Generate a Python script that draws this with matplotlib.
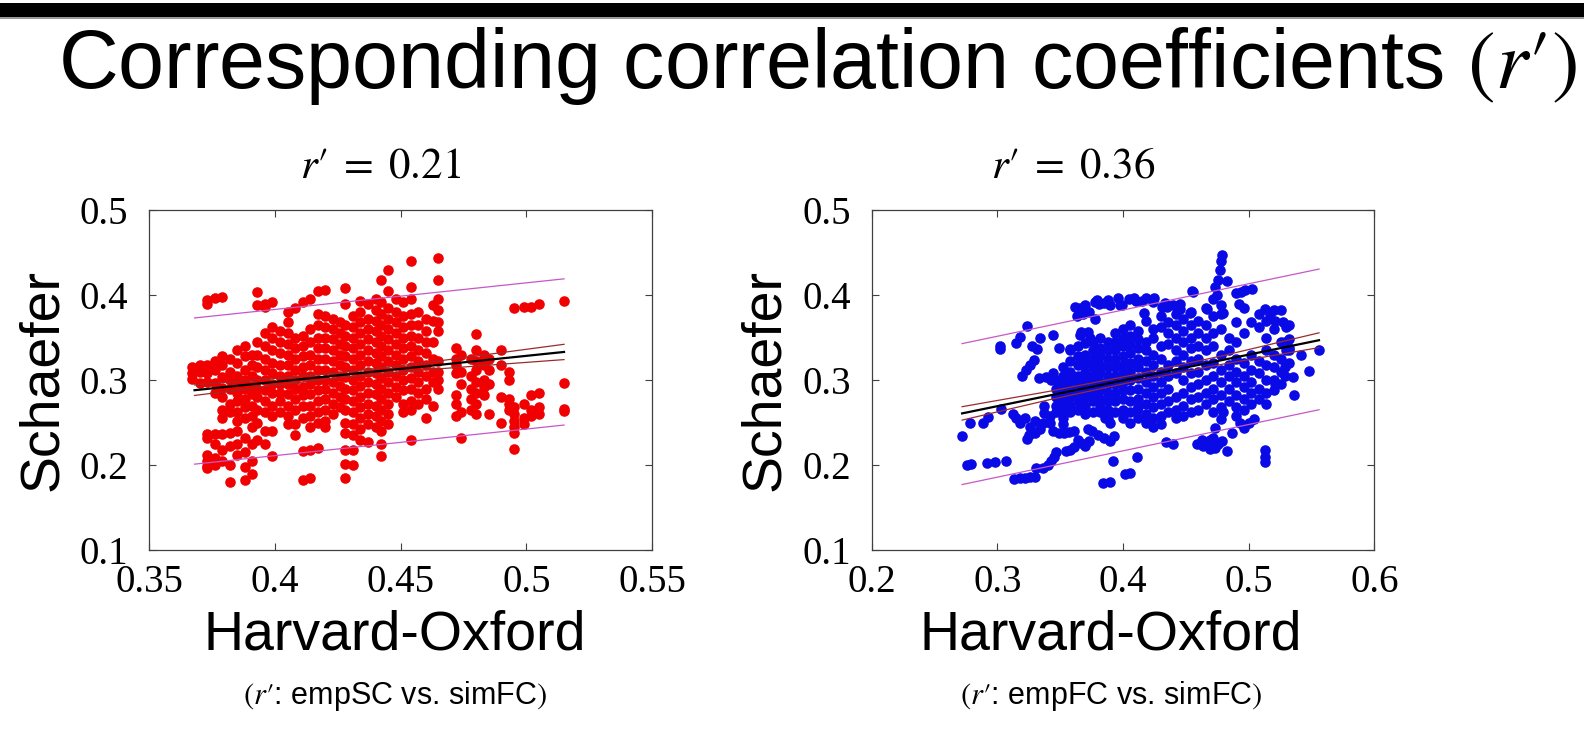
#!/usr/bin/env python3
# -*- coding: utf-8 -*-
import matplotlib
matplotlib.use("Agg")
import matplotlib.pyplot as plt
import numpy as np
from matplotlib.patches import Rectangle

plt.rcParams["font.family"] = ["Liberation Sans", "DejaVu Sans"]
plt.rcParams["mathtext.fontset"] = "stix"

# ---- panel 1: empSC vs. simFC (red) -------------------------------------
red_x = [0.367, 0.370, 0.373, 0.376, 0.379, 0.382, 0.385, 0.388, 0.391,
         0.393, 0.396, 0.399, 0.402, 0.405, 0.408, 0.411, 0.414, 0.417,
         0.420, 0.423, 0.426, 0.428, 0.431, 0.434, 0.437, 0.440, 0.442,
         0.445, 0.448, 0.451, 0.454, 0.457, 0.460, 0.463, 0.465, 0.472,
         0.474, 0.478, 0.480, 0.483, 0.485, 0.490, 0.493, 0.495, 0.499,
         0.502, 0.505, 0.515]
red_y = [
  [0.301, 0.308, 0.315],
  [0.296, 0.310, 0.318],
  [0.394, 0.389, 0.318, 0.308, 0.298, 0.236, 0.232, 0.212, 0.205, 0.199,
   0.196],
  [0.397, 0.322, 0.312, 0.296, 0.285, 0.236, 0.225, 0.208, 0.200],
  [0.398, 0.328, 0.318, 0.303, 0.291, 0.280, 0.265, 0.255, 0.236, 0.218,
   0.205],
  [0.325, 0.310, 0.300, 0.290, 0.272, 0.262, 0.238, 0.222, 0.200, 0.180],
  [0.335, 0.320, 0.305, 0.295, 0.285, 0.275, 0.262, 0.252, 0.240, 0.225,
   0.212],
  [0.340, 0.328, 0.312, 0.300, 0.290, 0.278, 0.268, 0.255, 0.232, 0.215,
   0.198, 0.182],
  [0.330, 0.318, 0.305, 0.293, 0.283, 0.270, 0.258, 0.245, 0.225, 0.205,
   0.190],
  [0.403, 0.388, 0.345, 0.330, 0.315, 0.300, 0.290, 0.280, 0.265, 0.250,
   0.230],
  [0.390, 0.386, 0.355, 0.340, 0.325, 0.312, 0.300, 0.288, 0.275, 0.262,
   0.240, 0.225],
  [0.392, 0.362, 0.350, 0.335, 0.320, 0.308, 0.295, 0.285, 0.270, 0.258,
   0.240, 0.211],
  [0.358, 0.345, 0.332, 0.318, 0.305, 0.295, 0.285, 0.275, 0.262],
  [0.380, 0.368, 0.355, 0.342, 0.330, 0.318, 0.305, 0.295, 0.283, 0.270,
   0.258, 0.248],
  [0.385, 0.350, 0.338, 0.325, 0.312, 0.300, 0.290, 0.278, 0.265, 0.248,
   0.235],
  [0.392, 0.352, 0.340, 0.328, 0.315, 0.305, 0.292, 0.282, 0.270, 0.255,
   0.216, 0.182],
  [0.395, 0.360, 0.345, 0.330, 0.318, 0.305, 0.295, 0.283, 0.270, 0.258,
   0.245, 0.218, 0.185],
  [0.405, 0.378, 0.365, 0.350, 0.338, 0.325, 0.312, 0.300, 0.288, 0.275,
   0.262, 0.250, 0.220],
  [0.406, 0.375, 0.362, 0.350, 0.338, 0.325, 0.312, 0.300, 0.290, 0.278,
   0.265, 0.252, 0.245],
  [0.372, 0.360, 0.348, 0.335, 0.322, 0.310, 0.298, 0.285, 0.272, 0.260],
  [0.368, 0.355, 0.342, 0.330, 0.318, 0.305, 0.293, 0.280, 0.268],
  [0.408, 0.390, 0.365, 0.352, 0.340, 0.328, 0.315, 0.303, 0.290, 0.278,
   0.265, 0.250, 0.238, 0.218, 0.201, 0.185],
  [0.375, 0.362, 0.350, 0.338, 0.325, 0.312, 0.300, 0.288, 0.275, 0.262,
   0.248, 0.235, 0.218, 0.200],
  [0.393, 0.380, 0.368, 0.355, 0.342, 0.330, 0.318, 0.305, 0.293, 0.280,
   0.268, 0.255, 0.242, 0.230],
  [0.390, 0.372, 0.360, 0.348, 0.335, 0.322, 0.310, 0.298, 0.285, 0.272,
   0.260, 0.248, 0.227],
  [0.395, 0.382, 0.370, 0.358, 0.345, 0.332, 0.320, 0.308, 0.295, 0.283,
   0.270, 0.258, 0.245],
  [0.418, 0.392, 0.378, 0.365, 0.352, 0.340, 0.328, 0.315, 0.302, 0.290,
   0.278, 0.265, 0.252, 0.240, 0.225, 0.211],
  [0.429, 0.405, 0.385, 0.372, 0.360, 0.348, 0.335, 0.322, 0.310, 0.298,
   0.285, 0.272, 0.260, 0.248],
  [0.395, 0.380, 0.368, 0.355, 0.342, 0.330, 0.318, 0.305, 0.292, 0.280],
  [0.392, 0.375, 0.362, 0.350, 0.338, 0.325, 0.312, 0.300, 0.288, 0.272,
   0.262],
  [0.440, 0.410, 0.395, 0.378, 0.365, 0.352, 0.340, 0.328, 0.315, 0.302,
   0.290, 0.275, 0.265, 0.229],
  [0.380, 0.365, 0.350, 0.335, 0.322, 0.310, 0.298, 0.285, 0.272],
  [0.372, 0.358, 0.345, 0.332, 0.318, 0.305, 0.290, 0.278, 0.255],
  [0.388, 0.370, 0.345, 0.325, 0.310, 0.298, 0.270],
  [0.444, 0.418, 0.395, 0.382, 0.368, 0.358, 0.322, 0.310, 0.300, 0.290],
  [0.338, 0.325, 0.318, 0.308, 0.282, 0.272, 0.258],
  [0.330, 0.310, 0.295, 0.262, 0.232],
  [0.325, 0.305, 0.290, 0.278, 0.265],
  [0.354, 0.335, 0.322, 0.312, 0.298, 0.285, 0.272, 0.260],
  [0.330, 0.318, 0.300, 0.292, 0.282],
  [0.325, 0.312, 0.295, 0.260],
  [0.335, 0.318, 0.280, 0.250],
  [0.310, 0.300, 0.278, 0.272, 0.265],
  [0.385, 0.268, 0.260, 0.252, 0.245, 0.238, 0.219],
  [0.386, 0.272, 0.255, 0.248],
  [0.386, 0.282, 0.265, 0.258],
  [0.390, 0.285, 0.268, 0.260],
  [0.393, 0.296, 0.266, 0.264],
]

red_fit_x = [0.368, 0.515]
red_fit_y = [0.288, 0.333]
red_pi_lo = [0.201, 0.247]
red_pi_hi = [0.373, 0.419]
red_ci_x = [0.368, 0.400, 0.425, 0.460, 0.515]
red_ci_hi = [0.2942, 0.3018, 0.3084, 0.3204, 0.342]
red_ci_lo = [0.2818, 0.2938, 0.3024, 0.3120, 0.324]

# ---- panel 2: empFC vs. simFC (blue) -------------------------------------
blue_x = [0.347, 0.352, 0.358, 0.364, 0.370, 0.376, 0.382, 0.388, 0.394,
          0.400, 0.406, 0.412, 0.418, 0.424, 0.430, 0.436, 0.442, 0.448,
          0.454, 0.460, 0.466, 0.472, 0.478, 0.484, 0.490, 0.496, 0.502,
          0.508, 0.514, 0.520, 0.526, 0.532]
blue_y = [
  [0.300, 0.290, 0.280, 0.270, 0.262],
  [0.315, 0.305, 0.295, 0.285, 0.275, 0.265, 0.255, 0.248],
  [0.335, 0.322, 0.310, 0.300, 0.290, 0.280, 0.270, 0.262],
  [0.340, 0.328, 0.318, 0.305, 0.295, 0.285, 0.275, 0.265],
  [0.330, 0.320, 0.310, 0.300, 0.290, 0.280, 0.270, 0.260],
  [0.345, 0.335, 0.325, 0.315, 0.305, 0.295, 0.285, 0.275, 0.262],
  [0.350, 0.338, 0.328, 0.318, 0.308, 0.298, 0.288, 0.278, 0.268],
  [0.345, 0.335, 0.325, 0.315, 0.305, 0.295, 0.285, 0.275, 0.265, 0.255],
  [0.355, 0.345, 0.335, 0.325, 0.315, 0.305, 0.295, 0.285, 0.275, 0.262],
  [0.360, 0.350, 0.340, 0.328, 0.318, 0.308, 0.298, 0.288, 0.278, 0.265,
   0.255],
  [0.365, 0.352, 0.342, 0.332, 0.320, 0.310, 0.300, 0.288, 0.275, 0.262,
   0.250],
  [0.358, 0.348, 0.338, 0.325, 0.315, 0.302, 0.290, 0.278, 0.268, 0.255],
  [0.370, 0.345, 0.335, 0.322, 0.310, 0.298, 0.285, 0.272, 0.260, 0.250],
  [0.360, 0.350, 0.330, 0.318, 0.305, 0.292, 0.280, 0.268, 0.255],
  [0.375, 0.362, 0.340, 0.325, 0.310, 0.298, 0.285, 0.272, 0.258, 0.248],
  [0.368, 0.355, 0.342, 0.318, 0.305, 0.290, 0.275, 0.262],
  [0.378, 0.365, 0.350, 0.335, 0.322, 0.308, 0.280, 0.265, 0.255],
  [0.372, 0.358, 0.345, 0.330, 0.315, 0.300, 0.285, 0.270, 0.258],
  [0.380, 0.365, 0.350, 0.338, 0.322, 0.308, 0.292, 0.278, 0.262],
  [0.370, 0.355, 0.340, 0.325, 0.310, 0.295, 0.280, 0.265],
  [0.385, 0.365, 0.350, 0.335, 0.318, 0.300, 0.285, 0.272],
  [0.375, 0.355, 0.340, 0.320, 0.305, 0.290, 0.278, 0.262],
  [0.378, 0.360, 0.330, 0.312, 0.298, 0.282, 0.268],
  [0.350, 0.335, 0.318, 0.305, 0.290, 0.275],
  [0.368, 0.345, 0.325, 0.310, 0.298, 0.282, 0.268, 0.258],
  [0.385, 0.355, 0.320, 0.305, 0.292, 0.278, 0.265],
  [0.368, 0.330, 0.312, 0.298, 0.285, 0.272],
  [0.378, 0.362, 0.322, 0.308, 0.290, 0.278],
  [0.370, 0.350, 0.335, 0.318, 0.300, 0.285, 0.272],
  [0.382, 0.360, 0.330, 0.315, 0.300, 0.288],
  [0.382, 0.345, 0.325, 0.310, 0.295],
  [0.365, 0.348, 0.335, 0.320],
]
# isolated blue points outside the dense cloud
blue_sx = [0.272, 0.276, 0.279, 0.278, 0.289, 0.293, 0.292, 0.298, 0.307,
           0.302, 0.302, 0.303, 0.313, 0.318, 0.322, 0.326, 0.330, 0.315,
           0.318, 0.3235, 0.328, 0.332, 0.334, 0.344, 0.349, 0.358, 0.320,
           0.323, 0.326, 0.329, 0.3335, 0.339, 0.343, 0.344, 0.3125, 0.315,
           0.318, 0.322, 0.326, 0.330, 0.334, 0.336, 0.325, 0.330, 0.3236,
           0.337, 0.337, 0.342, 0.342, 0.3445, 0.349, 0.353, 0.357, 0.361,
           0.355, 0.358, 0.361, 0.364, 0.367, 0.370, 0.373, 0.372, 0.331,
           0.336, 0.340, 0.343, 0.345, 0.347, 0.3636, 0.368, 0.373, 0.366,
           0.367, 0.372, 0.374, 0.370, 0.362, 0.366, 0.370, 0.378, 0.381,
           0.388, 0.378, 0.396, 0.399, 0.405, 0.410, 0.415, 0.418, 0.425,
           0.431, 0.435, 0.440, 0.445, 0.455, 0.456, 0.4785, 0.4783, 0.477,
           0.476, 0.4827, 0.473, 0.475, 0.472, 0.478, 0.490, 0.494, 0.497,
           0.503, 0.492, 0.480, 0.4668, 0.4455, 0.4535, 0.4336, 0.443,
           0.4084, 0.4243, 0.379, 0.385, 0.390, 0.3978, 0.4164, 0.513,
           0.517, 0.521, 0.527, 0.530, 0.529, 0.532, 0.530, 0.556, 0.548,
           0.542, 0.536, 0.535, 0.529, 0.529, 0.521, 0.5132, 0.5132, 0.5132,
           0.504, 0.493, 0.496, 0.487, 0.470, 0.473, 0.476, 0.479, 0.472,
           0.4735, 0.478, 0.463, 0.469, 0.434, 0.4402, 0.411, 0.392, 0.402,
           0.406, 0.3845, 0.390, 0.393, 0.375, 0.380, 0.385, 0.390, 0.382,
           0.386, 0.390, 0.411, 0.418, 0.424, 0.459, 0.464, 0.469, 0.480,
           0.483, 0.500]
blue_sy = [0.234, 0.200, 0.201, 0.249, 0.249, 0.257, 0.202, 0.203, 0.205,
           0.340, 0.337, 0.266, 0.183, 0.185, 0.185, 0.186, 0.186, 0.344,
           0.351, 0.363, 0.340, 0.337, 0.349, 0.353, 0.338, 0.337, 0.305,
           0.312, 0.318, 0.324, 0.302, 0.304, 0.300, 0.308, 0.260, 0.255,
           0.250, 0.255, 0.245, 0.252, 0.242, 0.250, 0.235, 0.238, 0.231,
           0.269, 0.261, 0.258, 0.250, 0.240, 0.238, 0.238, 0.239, 0.240,
           0.217, 0.218, 0.221, 0.230, 0.226, 0.222, 0.228, 0.242, 0.196,
           0.197, 0.200, 0.205, 0.210, 0.215, 0.375, 0.378, 0.380, 0.353,
           0.357, 0.357, 0.350, 0.344, 0.386, 0.385, 0.388, 0.392, 0.390,
           0.394, 0.372, 0.396, 0.388, 0.395, 0.393, 0.393, 0.396, 0.397,
           0.386, 0.386, 0.388, 0.390, 0.405, 0.404, 0.447, 0.440, 0.430,
           0.418, 0.416, 0.410, 0.400, 0.395, 0.388, 0.402, 0.404, 0.406,
           0.407, 0.390, 0.379, 0.3835, 0.383, 0.379, 0.391, 0.386, 0.396,
           0.392, 0.394, 0.391, 0.388, 0.388, 0.379, 0.384, 0.378, 0.370,
           0.368, 0.362, 0.345, 0.338, 0.335, 0.335, 0.311, 0.329, 0.282,
           0.303, 0.315, 0.305, 0.295, 0.218, 0.210, 0.203, 0.254, 0.250,
           0.243, 0.238, 0.224, 0.220, 0.225, 0.228, 0.232, 0.244, 0.254,
           0.230, 0.229, 0.227, 0.225, 0.209, 0.205, 0.190, 0.191, 0.179,
           0.180, 0.234, 0.240, 0.235, 0.232, 0.228, 0.262, 0.255, 0.250,
           0.265, 0.255, 0.245, 0.225, 0.222, 0.219, 0.262, 0.216, 0.250]

blue_fit_x = [0.272, 0.556]
blue_fit_y = [0.2607, 0.3468]
blue_pi_lo = [0.177, 0.265]
blue_pi_hi = [0.3428, 0.4305]
blue_ci_x = [0.272, 0.340, 0.410, 0.480, 0.556]
blue_ci_hi = [0.2686, 0.2863, 0.3065, 0.3288, 0.3555]
blue_ci_lo = [0.2528, 0.2763, 0.2985, 0.3188, 0.3381]

# ---- texts and ticks ------------------------------------------------------
main_title = "Corresponding correlation coefficients $(r\u2032)$"
panel_titles = ["$r\u2032\\;=\\;0.21$", "$r\u2032\\;=\\;0.36$"]
panel_notes = ["$(r\u2032$: empSC vs. simFC$)$",
               "$(r\u2032$: empFC vs. simFC$)$"]
x_label = "Harvard-Oxford"
y_label = "Schaefer"
x1_ticks = [0.35, 0.4, 0.45, 0.5, 0.55]
x1_labels = ["0.35", "0.4", "0.45", "0.5", "0.55"]
x2_ticks = [0.2, 0.3, 0.4, 0.5, 0.6]
x2_labels = ["0.2", "0.3", "0.4", "0.5", "0.6"]
y_ticks = [0.1, 0.2, 0.3, 0.4, 0.5]
y_labels = ["0.1", "0.2", "0.3", "0.4", "0.5"]

W, H = 1584, 749
AX_W, AX_H = 502.7, 340


def __flatten(cols_x, cols_y):
  """把按列记录的点展开成两个一维数组."""
  xs = np.repeat(cols_x, [len(c) for c in cols_y])
  ys = np.concatenate([np.asarray(c) for c in cols_y])
  return xs, ys


def __panel(fig, left_px, xs, ys, color, fit, ci, pi, xticks, xlabels,
            title, note, title_dx, label_dx):
  """画一个散点子图 (MATLAB 风格)."""
  ax = fig.add_axes([left_px / W, 1 - 550 / H, AX_W / W, AX_H / H])
  ax.scatter(xs, ys, s=58, color=color, linewidths=0, zorder=2)

  fit_x, fit_y = fit
  ci_x, ci_lo, ci_hi = ci
  pi_lo, pi_hi = pi
  ax.plot(fit_x, pi_hi, color="#c757c7", lw=0.9, zorder=3)
  ax.plot(fit_x, pi_lo, color="#c757c7", lw=0.9, zorder=3)
  ax.plot(ci_x, ci_hi, color="#9b2b2b", lw=0.9, zorder=3)
  ax.plot(ci_x, ci_lo, color="#9b2b2b", lw=0.9, zorder=3)
  ax.plot(fit_x, fit_y, color="black", lw=1.6, zorder=4)

  ax.set_xlim(xticks[0], xticks[-1])
  ax.set_ylim(y_ticks[0], y_ticks[-1])
  ax.set_xticks(xticks)
  ax.set_xticklabels(xlabels, fontsize=28, family="Liberation Serif")
  ax.set_yticks(y_ticks)
  ax.set_yticklabels(y_labels, fontsize=28, family="Liberation Serif")
  ax.tick_params(direction="in", top=True, right=True, length=5, width=0.8,
                 color="#404040")
  ax.tick_params(axis="x", pad=10)
  ax.tick_params(axis="y", pad=15)
  for sp in ax.spines.values():
    sp.set_color("#404040")
    sp.set_linewidth(0.9)

  ax.set_ylabel(y_label, fontsize=40)
  ax.yaxis.set_label_coords(-0.16, 0.5)

  cx = (left_px + AX_W / 2) / W
  fig.text(cx + title_dx / W, 1 - 178 / H, title, fontsize=31, ha="center",
           va="baseline")
  fig.text(cx + label_dx / W, 1 - 650 / H, x_label, fontsize=40,
           ha="center", va="baseline")
  fig.text(cx + label_dx / W, 1 - 704 / H, note, fontsize=22, ha="center",
           va="baseline")
  return ax


def __cmd():
  fig = plt.figure(figsize=(W / 100, H / 100), dpi=100)
  fig.patch.set_facecolor("white")

  # 顶部黑条
  fig.add_artist(Rectangle((0, 1 - 17 / H), 1, 14 / H,
                           transform=fig.transFigure, color="black", lw=0))
  fig.add_artist(Rectangle((0, 1 - 18.5 / H), 1, 1.2 / H,
                           transform=fig.transFigure, color="#9a9a9a", lw=0))
  fig.text(58 / W, 1 - 88 / H, main_title, fontsize=59.5, ha="left",
           va="baseline")

  rx, ry = __flatten(red_x, red_y)
  __panel(fig, 149.3, rx, ry, "#f00000",
          (red_fit_x, red_fit_y), (red_ci_x, red_ci_lo, red_ci_hi),
          (red_pi_lo, red_pi_hi), x1_ticks, x1_labels,
          panel_titles[0], panel_notes[0], -20, -6)

  bx, by = __flatten(blue_x, blue_y)
  bx = np.concatenate([bx, blue_sx])
  by = np.concatenate([by, blue_sy])
  __panel(fig, 871.6, bx, by, "#0a0ae6",
          (blue_fit_x, blue_fit_y), (blue_ci_x, blue_ci_lo, blue_ci_hi),
          (blue_pi_lo, blue_pi_hi), x2_ticks, x2_labels,
          panel_titles[1], panel_notes[1], -50, -12)

  fig.savefig("out.png", dpi=100)


if __name__ == '__main__':
  __cmd()
